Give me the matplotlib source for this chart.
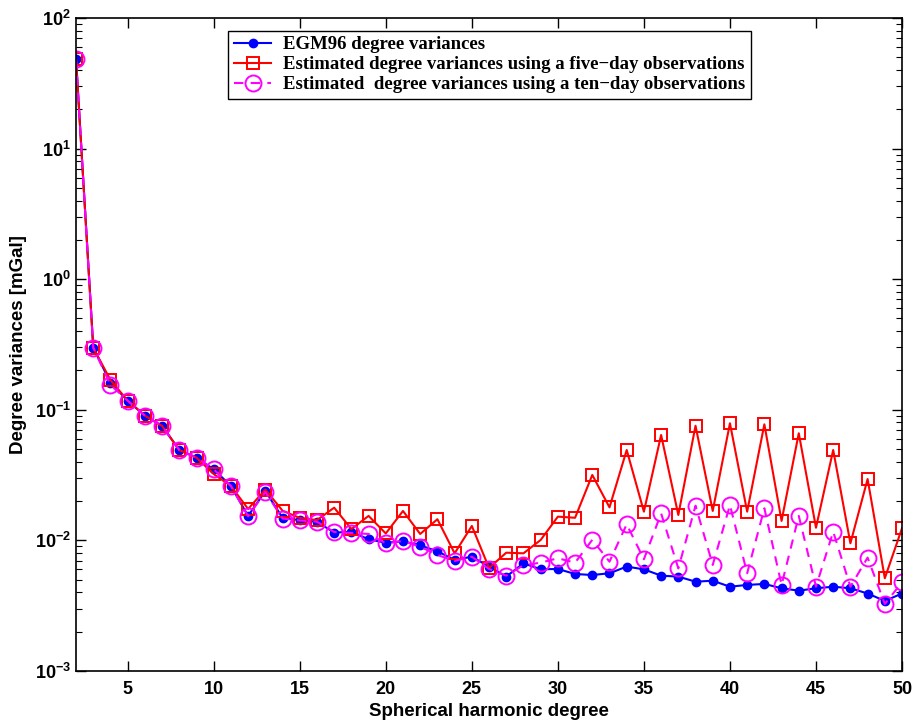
import numpy as np
import matplotlib
matplotlib.use("Agg")
from matplotlib import pyplot as plt

degree = list(range(2, 51))

# EGM96 degree variances
egm96 = [48.3, 0.299, 0.161, 0.1175, 0.0902, 0.0752, 0.0492, 0.0430, 0.0350, 0.0261,
         0.01538, 0.0239, 0.0149, 0.0143, 0.0139, 0.01146, 0.01166, 0.01019, 0.0096, 0.00984,
         0.00916, 0.00825, 0.00708, 0.0075, 0.0063, 0.00528, 0.00668, 0.00601, 0.00604, 0.00553,
         0.00543, 0.0056, 0.0063, 0.0060, 0.00537, 0.00528, 0.00483, 0.00491, 0.00442, 0.00456,
         0.00464, 0.0043, 0.00412, 0.0043, 0.00442, 0.0043, 0.00392, 0.00344, 0.00392]

# five-day estimate
five_day = [48.3, 0.299, 0.169, 0.1175, 0.0902, 0.0752, 0.0492, 0.0430, 0.0322, 0.0261,
            0.0174, 0.0245, 0.01687, 0.01486, 0.0143, 0.0178, 0.0122, 0.0154, 0.0113, 0.0168,
            0.0112, 0.01452, 0.00796, 0.0129, 0.00615, 0.00805, 0.00796, 0.01007, 0.0152, 0.0149,
            0.0317, 0.0179, 0.0492, 0.0166, 0.0641, 0.01565, 0.0755, 0.0168, 0.0788, 0.0166,
            0.0774, 0.0141, 0.0661, 0.0125, 0.0492, 0.0095, 0.0295, 0.00513, 0.0124]

# ten-day estimate
ten_day = [48.3, 0.299, 0.155, 0.1175, 0.0902, 0.0752, 0.0492, 0.0430, 0.0350, 0.0261,
           0.0153, 0.0235, 0.0147, 0.0142, 0.0139, 0.0116, 0.0114, 0.0112, 0.0095, 0.0099,
           0.00895, 0.00773, 0.00696, 0.0075, 0.00604, 0.00537, 0.00645, 0.00675, 0.0073, 0.00675,
           0.0101, 0.00687, 0.01328, 0.00717, 0.0161, 0.0061, 0.01845, 0.00649, 0.01866, 0.0056,
           0.0176, 0.00456, 0.0154, 0.00442, 0.01166, 0.00442, 0.00738, 0.00326, 0.00478]

plt.rcParams['font.family'] = ['Liberation Sans Narrow', 'Liberation Sans', 'DejaVu Sans']
plt.rcParams['font.weight'] = 'bold'

fig = plt.figure(figsize=(9.14, 7.25), dpi=100)
ax = fig.add_axes([0.0832, 0.0745, 0.9037, 0.9007])

ax.semilogy(degree, egm96, '-o', color='#0000ff', lw=1.5, ms=6,
            label='EGM96 degree variances')
ax.semilogy(degree, five_day, '-s', color='#ff0000', lw=1.5, ms=9, mfc='none', mew=1.4,
            label='Estimated degree variances using a five\u2212day observations')
ax.semilogy(degree, ten_day, '--o', color='#ff00ff', lw=1.5, ms=11.5, mfc='none', mew=1.4,
            dashes=(4.5, 3.5),
            label='Estimated  degree variances using a ten\u2212day observations')

ax.set_xlim(2, 50)
ax.set_ylim(1e-3, 1e2)
ax.set_xticks([5, 10, 15, 20, 25, 30, 35, 40, 45, 50])
ax.tick_params(which='both', direction='in', top=True, right=True, labelsize=13)
ax.tick_params(axis='x', pad=7)
ax.tick_params(which='major', length=7, width=1)
ax.tick_params(which='minor', length=4, width=0.8)
for lab in ax.get_xticklabels() + ax.get_yticklabels():
    lab.set_fontweight('bold')
for s in ax.spines.values():
    s.set_linewidth(1.2)

ax.set_xlabel('Spherical harmonic degree', fontsize=13.5, fontweight='bold', labelpad=4)
ax.set_ylabel('Degree variances [mGal]', fontsize=13.5, fontweight='bold', labelpad=6)

leg = ax.legend(loc='upper left', bbox_to_anchor=(0.173, 0.995), fancybox=False,
                framealpha=1, edgecolor='black', handlelength=2.0, borderpad=0.3,
                labelspacing=0.15, handletextpad=0.6,
                prop={'family': ['Liberation Serif', 'DejaVu Serif'], 'weight': 'bold', 'size': 13.5})
leg.get_frame().set_linewidth(1.0)

fig.savefig('out.png', dpi=100)
